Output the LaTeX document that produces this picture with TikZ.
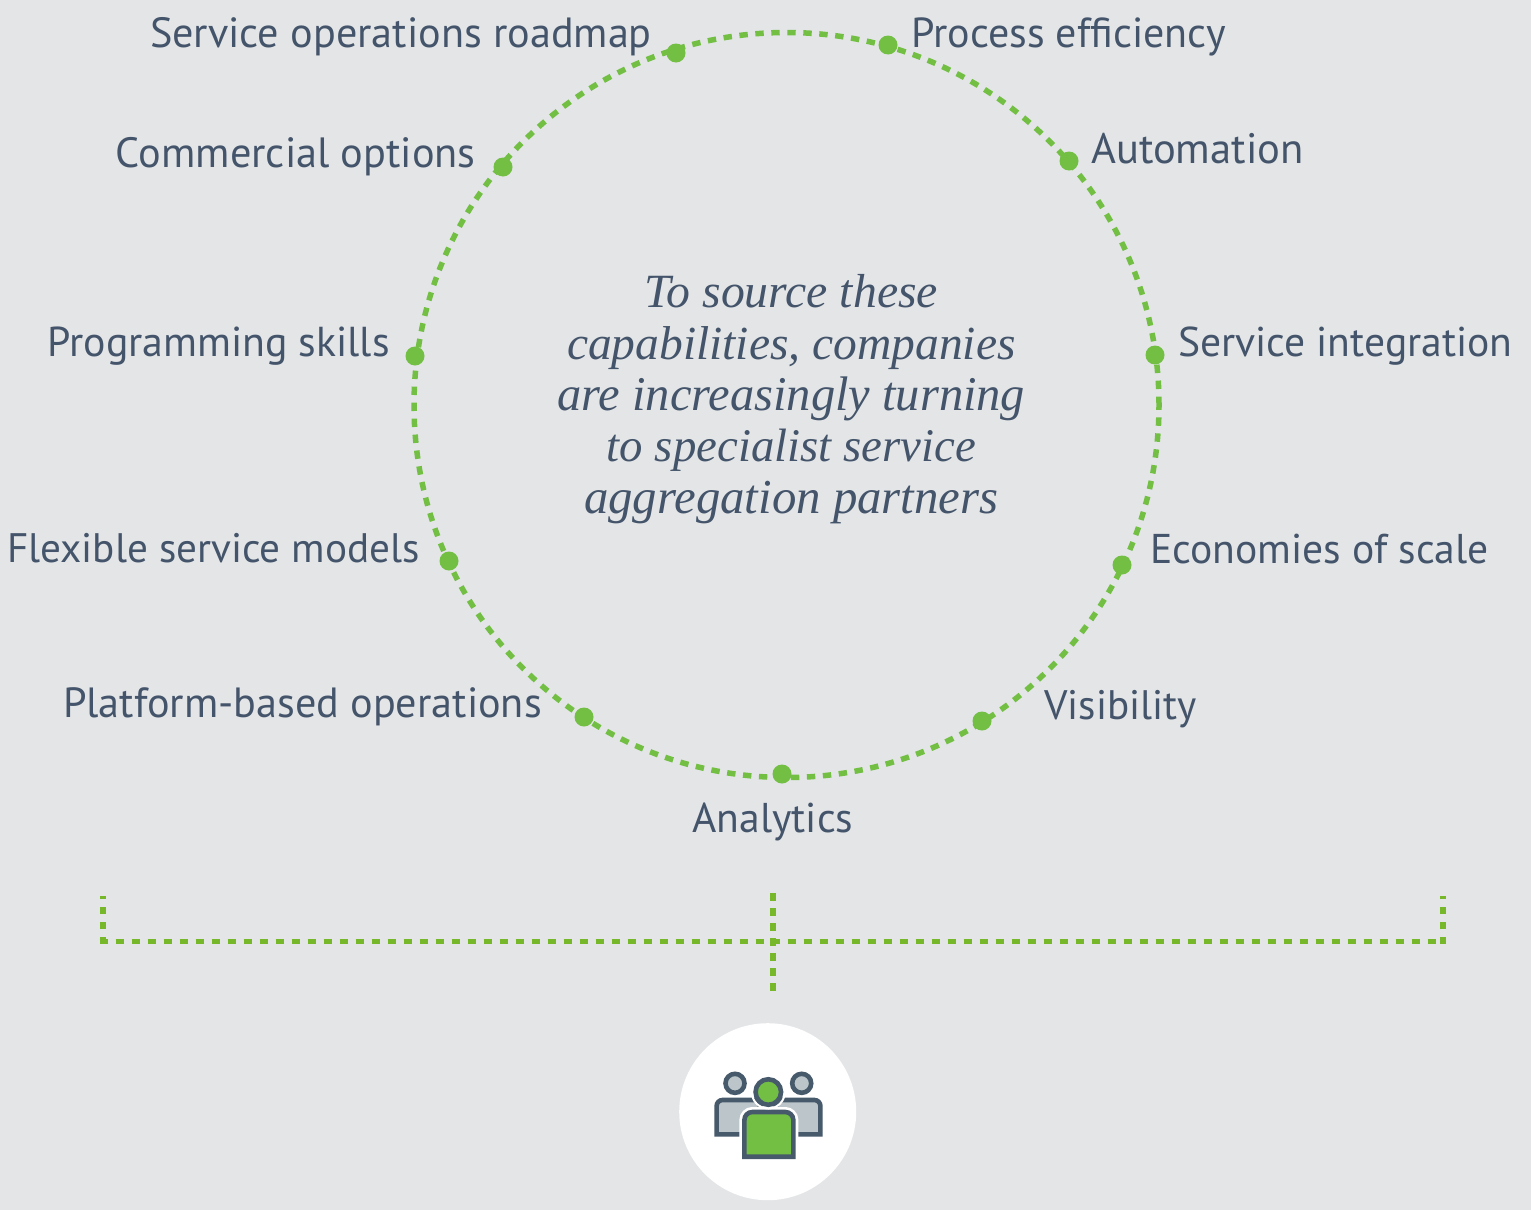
\documentclass[tikz,border=0pt]{standalone}
\usepackage{fontspec}
\setmainfont{PT Sans}
\newfontfamily\quotefont{Liberation Serif}
\definecolor{bgc}{HTML}{E3E5E7}
\definecolor{dotc}{HTML}{72BF44}
\definecolor{dashc}{HTML}{76B82A}
\definecolor{inkc}{HTML}{44546A}
\definecolor{iconc}{HTML}{465A6B}
\definecolor{greyc}{HTML}{BCC6CA}
\newcommand{\qsz}[2]{{\fontsize{#1}{51.3}\selectfont #2}}
\tikzset{
  lab/.style={text=inkc,font=\fontsize{#1}{46}\selectfont,inner sep=0pt},
  labl/.style={lab=#1,anchor=base west},
  labr/.style={lab=#1,anchor=base east},
  dotn/.style={circle,fill=dotc,minimum size=19pt,inner sep=0pt},
  ring/.style={circle,draw=dotc,line width=5.5pt,dash pattern=on 8.4pt off 7.6pt,minimum size=745pt,inner sep=0pt},
  brkh/.style={draw=dashc,line width=5pt,dash pattern=on 8pt off 8pt},
  brkv/.style={draw=dashc,line width=6pt,dash pattern=on 7.5pt off 7.5pt},
  iconline/.style={draw=iconc,line width=4.6pt},
}
\begin{document}
\begin{tikzpicture}[x=1pt,y=-1pt]
\path[use as bounding box,fill=bgc] (0,0) rectangle (1531,1210);
\node[ring] (ringc) at (786.5,405) {};
\foreach \n/\x/\y in {a/676/53,b/888/45,c/1069/161,d/1155/355,e/1122/565,f/982/721,g/782/774,h/584/717,i/449/561,j/415/356,k/503/167}
  \node[dotn] (\n) at (\x,\y) {};
\node[labr=42.2] (la) at (652,47) {Service operations roadmap};
\node[labl=42] (lb) at (911,47) {Process efficiency};
\node[labl=42.6] (lc) at (1091,163) {Automation};
\node[labl=41.6] (ld) at (1178,356) {Service integration};
\node[labl=41.6] (le) at (1150,563) {Economies of scale};
\node[labl=41.2] (lf) at (1044,719) {Visibility};
\node[lab=41.6,anchor=base] (lg) at (773,832) {Analytics};
\node[labr=42.2] (lh) at (542,717) {Platform-based operations};
\node[labr=41.2] (li) at (420,562) {Flexible service models};
\node[labr=41.8] (lj) at (390,356) {Programming skills};
\node[labr=42.3] (lk) at (476,167) {Commercial options};
\node[text=inkc,font=\quotefont\itshape\fontsize{47.5}{51.3}\selectfont,align=center,inner sep=0pt,anchor=base] (quote) at (791.3,513)
  {\qsz{47.7}{To source these}\\\qsz{47.5}{capabilities, companies}\\\qsz{48.5}{are increasingly turning}\\\qsz{46.8}{to specialist service}\\\qsz{48.8}{aggregation partners}};
\coordinate (bl) at (99.5,941.5);
\coordinate (blc) at (103,944);
\coordinate (blt) at (103,896);
\coordinate (br) at (1446,941.5);
\coordinate (brc) at (1443,944);
\coordinate (brt) at (1443,896);
\coordinate (bmt) at (772.5,893);
\coordinate (bmb) at (772.5,993);
\draw[brkh] (bl) -- (br);
\draw[brkv] (blc) -- (blt);
\draw[brkv] (brc) -- (brt);
\draw[brkv] (bmt) -- (bmb);
\node[circle,fill=white,minimum size=177pt,inner sep=0pt] (badge) at (767.7,1111.7) {};
% people icon
\draw[iconline,fill=greyc] (716.6,1134.4) [rounded corners=6pt] -- (716.6,1100) -- (760,1100) [sharp corners] -- (760,1134.4) -- cycle;
\draw[iconline,fill=greyc] (820.4,1134.4) [rounded corners=6pt] -- (820.4,1100) -- (776,1100) [sharp corners] -- (776,1134.4) -- cycle;
\node[circle,iconline,fill=greyc,minimum size=19pt,inner sep=0pt] (headl) at (735,1083.3) {};
\node[circle,iconline,fill=greyc,minimum size=19pt,inner sep=0pt] (headr) at (801.7,1083.3) {};
\draw[white,line width=10pt,rounded corners=8pt] (744.4,1156.7) -- (744.4,1112) -- (793.3,1112) -- (793.3,1156.7);
\draw[iconline,fill=dotc] (744.4,1156.7) [rounded corners=8pt] -- (744.4,1112) -- (793.3,1112) [sharp corners] -- (793.3,1156.7) -- cycle;
\node[circle,draw=white,line width=2pt,minimum size=33pt,inner sep=0pt] (headh) at (768.3,1092) {};
\node[circle,iconline,fill=dotc,minimum size=25.5pt,inner sep=0pt] (headc) at (768.3,1092) {};
\end{tikzpicture}
\end{document}
